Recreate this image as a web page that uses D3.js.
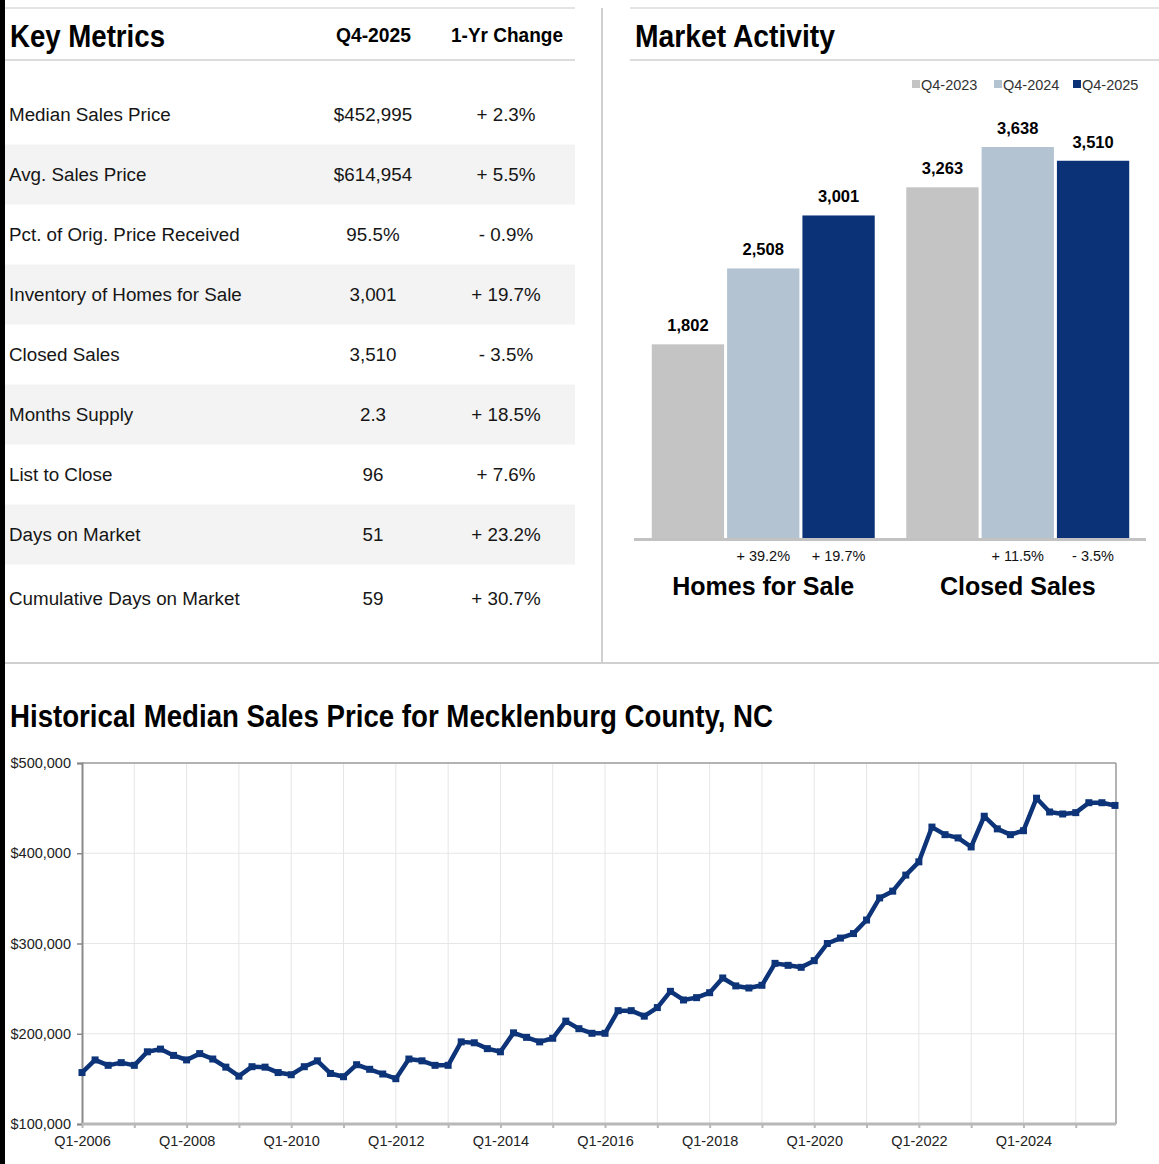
<!DOCTYPE html>
<html>
<head>
<meta charset="utf-8">
<script src="https://cdn.jsdelivr.net/npm/d3@7"></script>
<style>
  body { margin: 0; background: #fff; }
  .cond { font-family: "Liberation Sans", Arial, sans-serif; font-weight: bold; }
  .reg { font-family: "Liberation Sans", Arial, Helvetica, sans-serif; }
</style>
</head>
<body>
<div id="chart"></div>
<script>

// page size
var w = 1159;
var h = 1164;

// key metrics table
var metricNames = ["Median Sales Price", "Avg. Sales Price", "Pct. of Orig. Price Received",
  "Inventory of Homes for Sale", "Closed Sales", "Months Supply", "List to Close",
  "Days on Market", "Cumulative Days on Market"];
var metricValues = ["$452,995", "$614,954", "95.5%", "3,001", "3,510", "2.3", "96", "51", "59"];
var metricChanges = ["+ 2.3%", "+ 5.5%", "- 0.9%", "+ 19.7%", "- 3.5%", "+ 18.5%", "+ 7.6%", "+ 23.2%", "+ 30.7%"];

// market activity bars
var barGroups = ["Homes for Sale", "Closed Sales"];
var barSeries = ["Q4-2023", "Q4-2024", "Q4-2025"];
var homesForSale = [1802, 2508, 3001];
var closedSales = [3263, 3638, 3510];
var homesChange = ["", "+ 39.2%", "+ 19.7%"];
var closedChange = ["", "+ 11.5%", "- 3.5%"];
var barColors = ["#c4c4c4", "#b3c3d2", "#0b3277"];

// historical median price, Q1-2006 .. Q4-2025
var medianPrice = [
  157000, 171000, 165000, 168000, 165000, 180000, 183000, 176000,  // 2006-2007
  171000, 178000, 172000, 163000, 153000, 163500, 163000, 157000,  // 2008-2009
  154600, 163500, 170000, 156000, 152400, 165700, 160600, 155400,  // 2010-2011
  150200, 172000, 170000, 165000, 165000, 191000, 190000, 183500,  // 2012-2013
  180000, 201000, 196000, 191000, 195000, 214000, 205600, 200500,  // 2014-2015
  200500, 225600, 225600, 219500, 229000, 247000, 237400, 240000,  // 2016-2017
  245500, 261800, 253000, 250700, 253700, 278000, 275800, 273600,  // 2018-2019
  281000, 300000, 306000, 311000, 326000, 350500, 358000, 375800,  // 2020-2021
  390500, 429000, 420600, 417000, 407000, 441000, 427000, 420600,  // 2022-2023
  425000, 461000, 445700, 443500, 445000, 456000, 456000, 452995   // 2024-2025
];
var years = d3.range(2006, 2026);
var quarters = [];
years.forEach(function(y) {
  for (var q = 1; q <= 4; q++) quarters.push("Q" + q + "-" + y);
});
var yTicks = [100000, 200000, 300000, 400000, 500000];

var svg = d3.select("#chart")
            .append("svg")
              .attr("width", w)
              .attr("height", h);

// condensed bold headings: squeeze Liberation Sans to the width of the original
function heading(x, y, size, txt, len, anchor) {
  return svg.append("text")
     .attr("class", "cond")
     .attr("x", x).attr("y", y)
     .attr("font-size", size)
     .attr("text-anchor", anchor || "start")
     .attr("textLength", len)
     .attr("lengthAdjust", "spacingAndGlyphs")
     .text(txt);
}

// frame lines and the black strip on the left
svg.append("rect").attr("x", 0).attr("y", 0).attr("width", 5).attr("height", h).attr("fill", "#000");
svg.append("line").attr("x1", 5).attr("x2", 575).attr("y1", 8).attr("y2", 8).attr("stroke", "#e4e4e4").attr("stroke-width", 2);
svg.append("line").attr("x1", 630).attr("x2", w).attr("y1", 8).attr("y2", 8).attr("stroke", "#e4e4e4").attr("stroke-width", 2);
svg.append("line").attr("x1", 602).attr("x2", 602).attr("y1", 8).attr("y2", 663).attr("stroke", "#d0d0d0").attr("stroke-width", 2);
svg.append("line").attr("x1", 5).attr("x2", w).attr("y1", 663).attr("y2", 663).attr("stroke", "#d0d0d0").attr("stroke-width", 2);

// ---------- key metrics table ----------
var rowY = d3.scaleBand()
             .domain(d3.range(metricNames.length))
             .range([84, 624]);

svg.append("line").attr("x1", 5).attr("x2", 575).attr("y1", 60).attr("y2", 60).attr("stroke", "#dcdcdc").attr("stroke-width", 2);
heading(10, 47, 32, "Key Metrics", 155);
heading(336, 42, 21, "Q4-2025", 75);
heading(451, 42, 21, "1-Yr Change", 112);

svg.selectAll("rect.stripe")
   .data(metricNames)
   .enter()
   .append("rect")
   .attr("class", "stripe")
   .filter(function(d, i) { return i % 2 == 1; })
   .attr("x", 5)
   .attr("y", function(d, i) { return rowY(i * 2 + 1) + 0.5; })
   .attr("width", 570)
   .attr("height", rowY.bandwidth())
   .attr("fill", "#f3f3f3");

var rows = svg.selectAll("g.row")
   .data(metricNames)
   .enter()
   .append("g")
   .attr("class", "row reg")
   .attr("font-size", 18.8)
   .attr("fill", "#161616")
   .attr("transform", function(d, i) {
     var extra = i == metricNames.length - 1 ? 4 : 0;
     return "translate(0," + (rowY(i) + rowY.bandwidth() / 2 + 6.5 + extra) + ")";
   });
rows.append("text").attr("x", 9).text(function(d) { return d; });
rows.append("text").attr("x", 373).attr("text-anchor", "middle").text(function(d, i) { return metricValues[i]; });
rows.append("text").attr("x", 506).attr("text-anchor", "middle").text(function(d, i) { return metricChanges[i]; });

// ---------- market activity ----------
heading(635, 47, 32, "Market Activity", 200);
svg.append("line").attr("x1", 630).attr("x2", w).attr("y1", 60).attr("y2", 60).attr("stroke", "#dcdcdc").attr("stroke-width", 2);

var legendX = [912, 994, 1073];
var legend = svg.selectAll("g.legend")
   .data(barSeries)
   .enter()
   .append("g")
   .attr("class", "legend reg")
   .attr("transform", function(d, i) { return "translate(" + legendX[i] + ",84)"; });
legend.append("rect").attr("x", 0).attr("y", -4).attr("width", 8).attr("height", 8)
   .attr("fill", function(d, i) { return barColors[i]; });
legend.append("text").attr("x", 9).attr("y", 5.5).attr("font-size", 14.5).attr("fill", "#333").text(function(d) { return d; });

var x0 = d3.scaleBand()
           .domain(barGroups)
           .range([636, 1145])
           .paddingInner(0.124)
           .paddingOuter(0.062);
var x1 = d3.scaleBand()
           .domain(barSeries)
           .range([0, x0.bandwidth()])
           .paddingInner(0.04);
var yBar = d3.scaleLinear()
             .domain([0, 3638])
             .range([538, 147]);

var barData = [
  { group: barGroups[0], values: homesForSale, changes: homesChange },
  { group: barGroups[1], values: closedSales, changes: closedChange }
];

var groups = svg.selectAll("g.bargroup")
   .data(barData)
   .enter()
   .append("g")
   .attr("class", "bargroup")
   .attr("transform", function(d) { return "translate(" + x0(d.group) + ",0)"; });

groups.selectAll("rect")
   .data(function(d) { return d.values.map(function(v, i) { return { s: barSeries[i], v: v, i: i, c: d.changes[i] }; }); })
   .enter()
   .append("rect")
   .attr("x", function(d) { return x1(d.s); })
   .attr("y", function(d) { return yBar(d.v); })
   .attr("width", x1.bandwidth())
   .attr("height", function(d) { return yBar(0) - yBar(d.v); })
   .attr("fill", function(d) { return barColors[d.i]; });

groups.selectAll("text.val")
   .data(function(d) { return d.values.map(function(v, i) { return { s: barSeries[i], v: v, c: d.changes[i] }; }); })
   .enter()
   .append("text")
   .attr("class", "val reg")
   .attr("x", function(d) { return x1(d.s) + x1.bandwidth() / 2; })
   .attr("y", function(d) { return yBar(d.v) - 13; })
   .attr("text-anchor", "middle")
   .attr("font-size", 16.5)
   .attr("font-weight", "bold")
   .text(function(d) { return d3.format(",")(d.v); });

groups.selectAll("text.chg")
   .data(function(d) { return d.values.map(function(v, i) { return { s: barSeries[i], c: d.changes[i] }; }); })
   .enter()
   .append("text")
   .attr("class", "chg reg")
   .attr("x", function(d) { return x1(d.s) + x1.bandwidth() / 2; })
   .attr("y", 561)
   .attr("text-anchor", "middle")
   .attr("font-size", 14.5)
   .attr("fill", "#111")
   .text(function(d) { return d.c; });

groups.append("text")
   .attr("class", "reg")
   .attr("x", x0.bandwidth() / 2)
   .attr("y", 595)
   .attr("text-anchor", "middle")
   .attr("font-size", 25)
   .attr("font-weight", "bold")
   .text(function(d) { return d.group; });

svg.append("line").attr("x1", 634).attr("x2", 1146).attr("y1", 539.5).attr("y2", 539.5)
   .attr("stroke", "#c2c2c2").attr("stroke-width", 3);

// ---------- historical median sales price ----------
heading(10, 727, 32, "Historical Median Sales Price for Mecklenburg County, NC", 763);

var xLine = d3.scalePoint()
              .domain(quarters)
              .range([82, 1115]);
var yLine = d3.scaleLinear()
              .domain([100000, 500000])
              .range([1124, 763]);

var yearStarts = quarters.filter(function(q) { return q.indexOf("Q1-") == 0; });

// grid
svg.append("g")
   .selectAll("line")
   .data(yearStarts.slice(1))
   .enter()
   .append("line")
   .attr("x1", function(d) { return xLine(d); })
   .attr("x2", function(d) { return xLine(d); })
   .attr("y1", 763).attr("y2", 1124)
   .attr("stroke", "#e6e6e6").attr("stroke-width", 1);
svg.append("g")
   .selectAll("line")
   .data(yTicks.slice(1, 4))
   .enter()
   .append("line")
   .attr("x1", 82).attr("x2", 1116)
   .attr("y1", function(d) { return yLine(d); })
   .attr("y2", function(d) { return yLine(d); })
   .attr("stroke", "#e6e6e6").attr("stroke-width", 1);

// frame
svg.append("line").attr("x1", 82).attr("x2", 1116).attr("y1", 763).attr("y2", 763).attr("stroke", "#9a9a9a").attr("stroke-width", 1.5);
svg.append("line").attr("x1", 1116).attr("x2", 1116).attr("y1", 763).attr("y2", 1124).attr("stroke", "#9a9a9a").attr("stroke-width", 1.5);

// axes
var y_axis = d3.axisLeft(yLine)
               .tickValues(yTicks)
               .tickSize(5)
               .tickFormat(function(d) { return "$" + d3.format(",")(d); });
var gy = svg.append("g")
   .attr("transform", "translate(82,0)")
   .call(y_axis);
gy.select(".domain").attr("stroke", "#8a8a8a").attr("stroke-width", 2);
gy.selectAll(".tick line").attr("stroke", "#8a8a8a").attr("stroke-width", 1.5);
gy.selectAll(".tick text").attr("x", -11).attr("dy", "0.32em").attr("font-size", 14.5)
   .attr("font-family", "Liberation Sans, Arial, sans-serif").attr("fill", "#222");

var x_axis = d3.axisBottom(xLine)
               .tickValues(yearStarts)
               .tickSize(4)
               .tickFormat(function(d, i) { return i % 2 == 0 ? d : ""; });
var gx = svg.append("g")
   .attr("transform", "translate(0,1124)")
   .call(x_axis);
gx.select(".domain").attr("stroke", "#b8b8b8").attr("stroke-width", 3).attr("d", "M82,0H1116");
gx.selectAll(".tick line").attr("stroke", "#b8b8b8").attr("stroke-width", 2);
gx.selectAll(".tick text").attr("y", 12).attr("font-size", 14.5)
   .attr("font-family", "Liberation Sans, Arial, sans-serif").attr("fill", "#222");

// the line and its markers
var line = d3.line()
             .x(function(d, i) { return xLine(quarters[i]); })
             .y(function(d) { return yLine(d); });

svg.append("path")
   .datum(medianPrice)
   .attr("d", line)
   .attr("fill", "none")
   .attr("stroke", "#0d3478")
   .attr("stroke-width", 4.5)
   .attr("stroke-linejoin", "round");

svg.selectAll("rect.marker")
   .data(medianPrice)
   .enter()
   .append("rect")
   .attr("class", "marker")
   .attr("x", function(d, i) { return xLine(quarters[i]) - 3.5; })
   .attr("y", function(d) { return yLine(d) - 3.5; })
   .attr("width", 7)
   .attr("height", 7)
   .attr("fill", "#0d3478");

</script>
</body>
</html>
